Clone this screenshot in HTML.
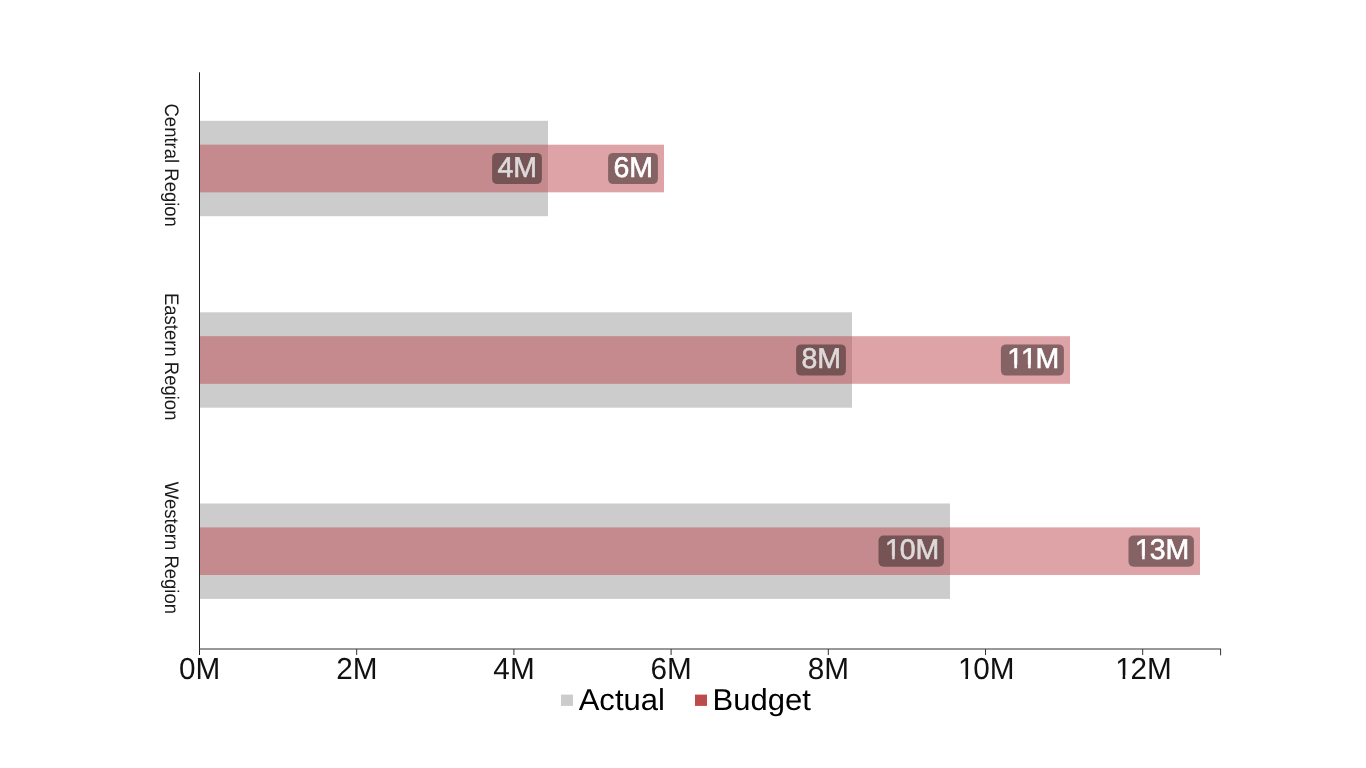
<!DOCTYPE html>
<html><head><meta charset="utf-8"><title>Actual vs Budget</title>
<style>
html,body{margin:0;padding:0;background:#fff;}
body{width:1366px;height:768px;overflow:hidden;}
svg{display:block}
text{font-family:"Liberation Sans",Arial,Helvetica,sans-serif;text-rendering:geometricPrecision;}
.tick{font-size:30.4px;fill:#111}
.cat{font-size:19.6px;fill:#1a1a1a;text-anchor:middle}
.leg{font-size:30.3px;fill:#000}
.dl{font-size:28.5px;stroke-width:0.6px}
</style></head><body>
<svg width="1366" height="768" viewBox="0 0 1366 768">
<rect width="1366" height="768" fill="#fff"/>
<defs><clipPath id="c0"><path clip-rule="evenodd" d="M-200,-100H200V100H-200ZM-24.91,-3.43h6.60v6.43h-6.60ZM-15.79,-3.43h11.22v6.43h-11.22ZM-2.06,-3.43h6.42v6.43h-6.42Z"/></clipPath><clipPath id="c1"><path clip-rule="evenodd" d="M-200,-100H200V100H-200ZM-25.97,-3.43h6.60v6.43h-6.60ZM-16.85,-3.43h6.42v6.43h-6.42Z"/></clipPath><clipPath id="c2"><path clip-rule="evenodd" d="M-200,-100H200V100H-200ZM-25.97,-3.43h6.60v6.43h-6.60ZM-16.85,-3.43h6.42v6.43h-6.42Z"/></clipPath><clipPath id="c3"><path clip-rule="evenodd" d="M-200,-100H200V100H-200ZM-27.70,-3.57h7.04v6.57h-7.04ZM-17.98,-3.57h6.84v6.57h-6.84Z"/></clipPath><clipPath id="c4"><path clip-rule="evenodd" d="M-200,-100H200V100H-200ZM-27.70,-3.57h7.04v6.57h-7.04ZM-17.98,-3.57h6.84v6.57h-6.84Z"/></clipPath></defs>
<rect x="200" y="120.8" width="348" height="95.4" fill="#cccccc"/>
<rect x="200" y="312.3" width="652" height="95.4" fill="#cccccc"/>
<rect x="200" y="503.5" width="750" height="95.4" fill="#cccccc"/>
<rect x="200" y="144.7" width="464" height="47.6" fill="#be484d" fill-opacity="0.5"/>
<rect x="200" y="336.2" width="870" height="47.6" fill="#be484d" fill-opacity="0.5"/>
<rect x="200" y="527.4" width="1000" height="47.6" fill="#be484d" fill-opacity="0.5"/>
<rect x="492.1" y="152.9" width="49.8" height="31.2" rx="5" fill="#000" fill-opacity="0.4"/><g transform="translate(517.30,177.10)"><text class="dl" x="-19.80 -3.95" y="0" fill="#dedada" stroke="#dedada">4M</text></g>
<rect x="608.1" y="152.9" width="49.8" height="31.2" rx="5" fill="#000" fill-opacity="0.4"/><g transform="translate(633.30,177.10)"><text class="dl" x="-19.80 -3.95" y="0" fill="#ffffff" stroke="#ffffff">6M</text></g>
<rect x="796.1" y="344.4" width="49.8" height="31.2" rx="5" fill="#000" fill-opacity="0.4"/><g transform="translate(821.30,367.90)"><text class="dl" x="-19.80 -3.95" y="0" fill="#dedada" stroke="#dedada">8M</text></g>
<rect x="1000.9" y="344.4" width="63.0" height="31.2" rx="5" fill="#000" fill-opacity="0.4"/><g transform="translate(1032.70,367.90)"><text class="dl" x="-25.48 -11.75 2.92" y="0" clip-path="url(#c0)" fill="#ffffff" stroke="#ffffff">11M</text></g>
<rect x="878.5" y="535.6" width="65.4" height="31.2" rx="5" fill="#000" fill-opacity="0.4"/><g transform="translate(911.50,559.20)"><text class="dl" x="-26.54 -11.87 3.98" y="0" clip-path="url(#c1)" fill="#dedada" stroke="#dedada">10M</text></g>
<rect x="1128.5" y="535.6" width="65.4" height="31.2" rx="5" fill="#000" fill-opacity="0.4"/><g transform="translate(1161.50,559.20)"><text class="dl" x="-26.54 -11.87 3.98" y="0" clip-path="url(#c2)" fill="#ffffff" stroke="#ffffff">13M</text></g>
<line x1="199.5" y1="72.3" x2="199.5" y2="655" stroke="#222" stroke-width="1"/>
<line x1="199" y1="649" x2="1221" y2="649" stroke="#333" stroke-width="1.2"/>
<g transform="translate(199.60,678.90) scale(0.978,1)"><text class="tick" x="-21.12 -4.21" y="0">0M</text></g>
<line x1="356.7" y1="649" x2="356.7" y2="655" stroke="#333" stroke-width="1"/><g transform="translate(356.80,678.90) scale(0.978,1)"><text class="tick" x="-21.12 -4.21" y="0">2M</text></g>
<line x1="513.9" y1="649" x2="513.9" y2="655" stroke="#333" stroke-width="1"/><g transform="translate(514.00,678.90) scale(0.978,1)"><text class="tick" x="-21.12 -4.21" y="0">4M</text></g>
<line x1="671.1" y1="649" x2="671.1" y2="655" stroke="#333" stroke-width="1"/><g transform="translate(671.20,678.90) scale(0.978,1)"><text class="tick" x="-21.12 -4.21" y="0">6M</text></g>
<line x1="828.3" y1="649" x2="828.3" y2="655" stroke="#333" stroke-width="1"/><g transform="translate(828.40,678.90) scale(0.978,1)"><text class="tick" x="-21.12 -4.21" y="0">8M</text></g>
<line x1="985.5" y1="649" x2="985.5" y2="655" stroke="#333" stroke-width="1"/><g transform="translate(985.60,678.90) scale(0.978,1)"><text class="tick" x="-28.31 -12.66 4.25" y="0" clip-path="url(#c3)">10M</text></g>
<line x1="1142.7" y1="649" x2="1142.7" y2="655" stroke="#333" stroke-width="1"/><g transform="translate(1142.80,678.90) scale(0.978,1)"><text class="tick" x="-28.31 -12.66 4.25" y="0" clip-path="url(#c4)">12M</text></g>
<line x1="1220.6" y1="649" x2="1220.6" y2="655.3" stroke="#333" stroke-width="1"/>
<text class="cat" transform="translate(165,165.2) rotate(90) scale(0.944,1)">Central Region</text>
<text class="cat" transform="translate(165,356.7) rotate(90) scale(0.944,1)">Eastern Region</text>
<text class="cat" transform="translate(165,547.9) rotate(90) scale(0.944,1)">Western Region</text>
<rect x="561" y="694.6" width="12" height="11.3" fill="#cccccc"/><text class="leg" x="578.7" y="709.7" textLength="86.2" lengthAdjust="spacingAndGlyphs">Actual</text>
<rect x="695" y="694.6" width="12" height="11.3" fill="#be4b4b"/><text class="leg" x="712.6" y="709.7" textLength="98.3" lengthAdjust="spacingAndGlyphs">Budget</text>
</svg></body></html>
